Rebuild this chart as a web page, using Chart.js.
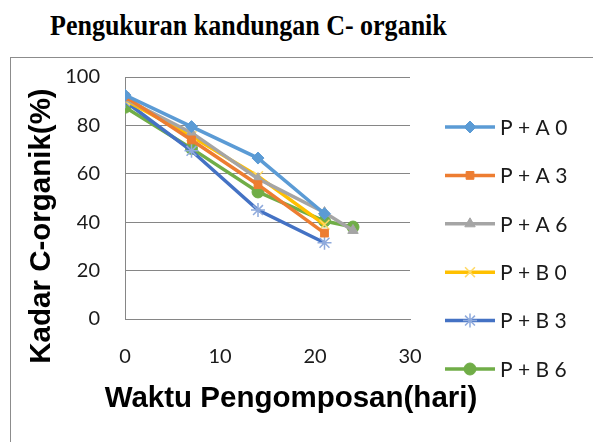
<!DOCTYPE html>
<html>
<head>
<meta charset="utf-8">
<script src="https://cdn.jsdelivr.net/npm/chart.js@4"></script>
<style>
  body { margin: 0; background: #fff; }
  #wrap { position: relative; width: 593px; height: 442px; overflow: hidden; }
  #title {
    position: absolute; left: 50px; top: 10px; line-height: 30px;
    font-family: "Liberation Serif", serif; font-weight: bold; font-size: 30px; color: #000;
    white-space: nowrap; transform: scaleX(0.867); transform-origin: left top;
  }
  #frame {
    position: absolute; left: 10px; top: 57px; width: 640px; height: 420px;
    border: 1px solid #8c8c8c;
  }
  #box { position: absolute; left: 0; top: 0; width: 593px; height: 442px; }
</style>
</head>
<body>
<div id="wrap">
  <div id="title">Pengukuran kandungan C- organik</div>
  <div id="frame"></div>
  <div id="box"><canvas id="chart"></canvas></div>
</div>
<script>
const days = [0, 7, 14, 21, 24];
const labels = ["P + A 0", "P + A 3", "P + A 6", "P + B 0", "P + B 3", "P + B 6"];
const pA0 = [92.5, 79.5, 66.5, 43.5, null];
const pA3 = [92, 74, 55.5, 35.5, null];
const pA6 = [91, 77, 58, 44, 36.6];
const pB0 = [90.5, 75.5, 59, 39, null];
const pB3 = [90, 69.5, 45, 31.5, null];
const pB6 = [87.5, 70.5, 52.5, 40.5, 38];
const yTicks = [0, 20, 40, 60, 80, 100];
const xTicks = [0, 10, 20, 30];
const xTitle = "Waktu Pengomposan(hari)";
const yTitle = "Kadar C-organik(%)";

const series = [pA0, pA3, pA6, pB0, pB3, pB6];
const colors = ["#5B9BD5", "#ED7D31", "#A5A5A5", "#FFC000", "#4472C4", "#70AD47"];
const markerEdge = ["#5B9BD5", "#ED7D31", "#A5A5A5", "#FFD966", "#8FAADC", "#70AD47"];
const styles = ["rectRot", "rect", "triangle", "crossRot", "star", "circle"];
const radii = [6, 5.5, 6, 7, 7, 6];

function pts(vals) {
  const out = [];
  vals.forEach((v, i) => { if (v !== null) out.push({ x: days[i], y: v }); });
  return out;
}

const datasets = series.map((s, i) => ({
  label: labels[i],
  data: pts(s),
  borderColor: colors[i],
  backgroundColor: colors[i],
  borderWidth: 3.5,
  pointStyle: styles[i],
  pointRadius: radii[i],
  pointBackgroundColor: colors[i],
  pointBorderColor: markerEdge[i],
  pointBorderWidth: (styles[i] === "crossRot" || styles[i] === "star") ? 1.5 : 1,
  tension: 0
}));

// legend + axis titles drawn by hand, placed like the office chart
const extras = {
  id: "extras",
  afterDraw(chart) {
    const c = chart.ctx;
    chart.data.datasets.forEach((d, i) => {
      const y = 127 + i * 48.4;
      c.save();
      c.strokeStyle = d.borderColor;
      c.lineWidth = 3.5;
      c.beginPath();
      c.moveTo(445, y);
      c.lineTo(495, y);
      c.stroke();
      c.fillStyle = d.pointBackgroundColor;
      c.strokeStyle = d.pointBorderColor;
      c.lineWidth = d.pointBorderWidth;
      Chart.helpers.drawPoint(c, { pointStyle: d.pointStyle, radius: d.pointRadius, borderWidth: d.pointBorderWidth, rotation: 0 }, 470, y);
      c.fillStyle = "#1a1a1a";
      c.font = "21px Lato";
      c.textBaseline = "middle";
      c.textAlign = "left";
      c.fillText(d.label, 500, y + 1);
      c.restore();
    });

    c.save();
    c.fillStyle = "#000";
    c.font = "bold 29.5px 'Liberation Sans'";
    c.textAlign = "center";
    c.textBaseline = "middle";
    c.fillText(xTitle, 291, 399);
    c.translate(42, 226);
    c.rotate(-Math.PI / 2);
    c.fillText(yTitle, 0, 0);
    c.restore();
  }
};

new Chart(document.getElementById("chart"), {
  type: "line",
  data: { datasets: datasets },
  options: {
    responsive: true,
    maintainAspectRatio: false,
    animation: false,
    layout: { padding: { top: 77, right: 183, bottom: 0, left: 0 } },
    plugins: {
      legend: { display: false },
      tooltip: { enabled: false }
    },
    scales: {
      x: {
        type: "linear",
        min: 0,
        max: 30,
        afterBuildTicks: s => { s.ticks = xTicks.map(v => ({ value: v })); },
        afterFit: s => { s.height = 123; },
        grid: { display: false, drawTicks: false },
        border: { display: true, color: "#868686", width: 1 },
        ticks: { padding: 26, color: "#1a1a1a", font: { family: "Lato", size: 20 } }
      },
      y: {
        min: 0,
        max: 100,
        afterBuildTicks: s => { s.ticks = yTicks.map(v => ({ value: v })); },
        afterFit: s => { s.width = 125; },
        grid: { color: "#868686", lineWidth: 1, drawTicks: false },
        border: { display: true, color: "#868686", width: 1 },
        ticks: { padding: 25, color: "#1a1a1a", font: { family: "Lato", size: 20 } }
      }
    }
  },
  plugins: [extras]
});
</script>
</body>
</html>
